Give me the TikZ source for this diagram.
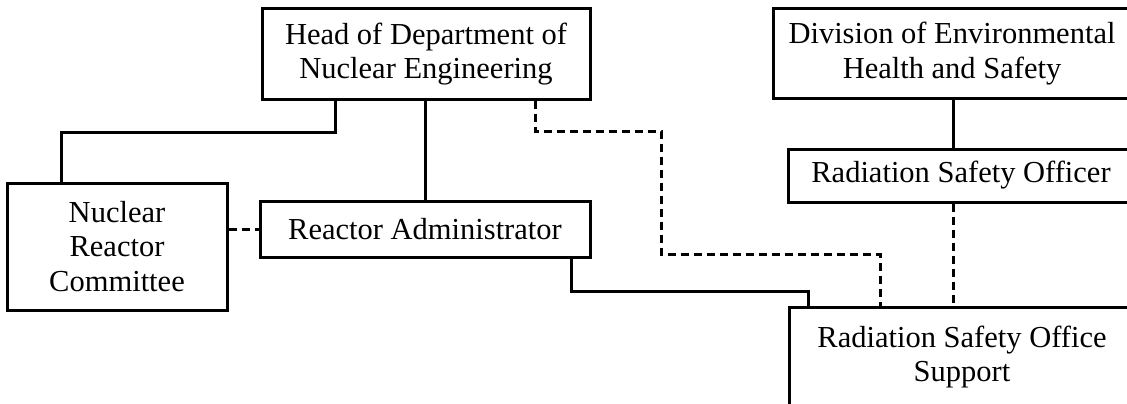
\documentclass[tikz,border=0pt]{standalone}
\usepackage{fontspec}
\setmainfont{Liberation Serif}
\begin{document}
\begin{tikzpicture}[x=1pt,y=-1pt,
  box/.style={draw, line width=3pt, inner sep=0pt, align=center,
    font=\fontsize{30.5}{34.5}\selectfont},
  conn/.style={line width=3pt},
  dashline/.style={line width=3pt, dash pattern=on 8pt off 5pt}]
\useasboundingbox (0,0) rectangle (1127,404);
\clip (0,0) rectangle (1127,404);
\node[box, minimum width=328pt, minimum height=90pt] (head) at (426,54) {Head of Department of\\Nuclear Engineering};
\node[box, minimum width=358pt, minimum height=89pt] (div) at (952,53.5) {Division of Environmental\\Health and Safety};
\node[box, minimum width=346pt, minimum height=53pt] (rso) at (961,175.5) {Radiation Safety Officer};
\node[box, minimum width=220pt, minimum height=127pt] (nrc) at (117,246.5) {Nuclear\\Reactor\\Committee};
\node[box, minimum width=330pt, minimum height=56pt] (ra) at (425,229) {Reactor Administrator};
\node[box, minimum width=346pt, minimum height=100pt] (sup) at (962,357) {Radiation Safety Office\\Support};
% solid connectors
\draw[conn] ([xshift=-91pt]head.south) -- ++(0,32) -| ([xshift=-56pt]nrc.north);
\draw[conn] (ra.north |- head.south) -- (ra.north);
\draw[conn] ([xshift=146pt]ra.south) -- ++(0,33) -| ([xshift=-154pt]sup.north);
\draw[conn] ([xshift=1pt]div.south) -- ([xshift=1pt]div.south |- rso.north);
% dashed connectors
\draw[dashline] (nrc.east |- ra.west) -- (ra.west);
\draw[dashline] ([xshift=109pt]head.south) |- (661,131) |- (880,254) -- ([xshift=-82pt]sup.north);
\draw[dashline] ([xshift=-8pt]rso.south) -- ([xshift=-8pt]rso.south |- sup.north);
\end{tikzpicture}
\end{document}
